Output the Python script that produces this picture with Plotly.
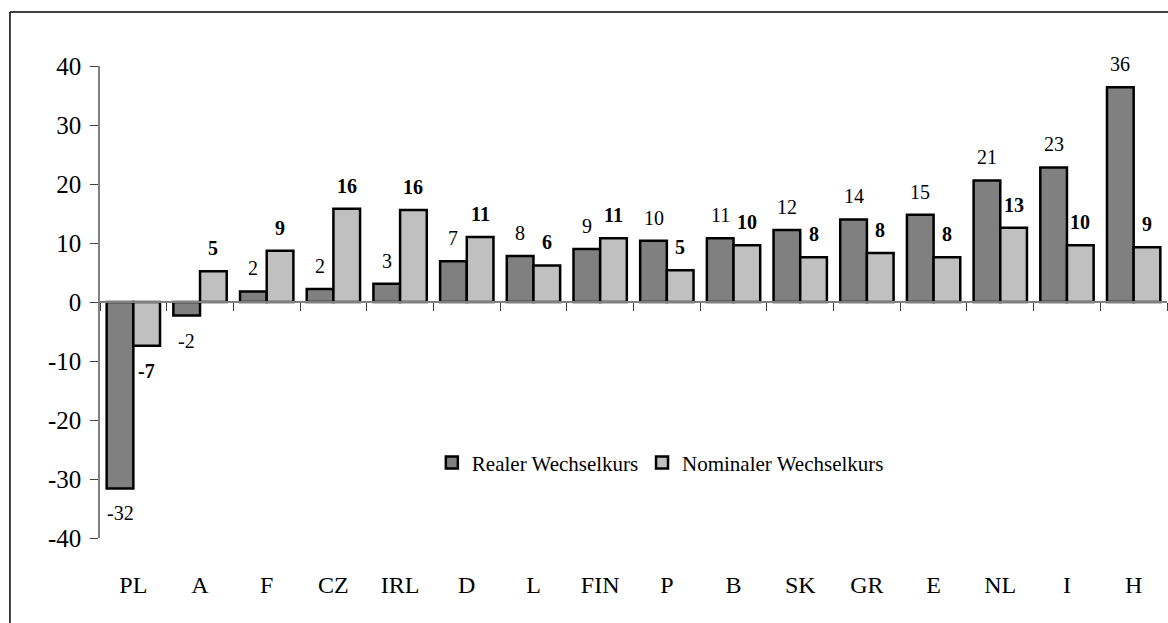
import plotly.graph_objects as go

# Countries and exchange-rate changes (percent)
countries = ["PL", "A", "F", "CZ", "IRL", "D", "L", "FIN", "P", "B",
             "SK", "GR", "E", "NL", "I", "H"]
real_rate = [-31.6, -2.3, 1.8, 2.2, 3.1, 6.9, 7.8, 9.0, 10.4, 10.8,
             12.2, 14.0, 14.8, 20.6, 22.8, 36.4]
nominal_rate = [-7.4, 5.2, 8.7, 15.8, 15.6, 11.0, 6.2, 10.8, 5.4, 9.6,
                7.6, 8.3, 7.6, 12.6, 9.6, 9.3]

series_names = ["Realer Wechselkurs", "Nominaler Wechselkurs"]
y_ticks = [-40, -30, -20, -10, 0, 10, 20, 30, 40]
y_tick_text = ["-40", "-30", "-20", "-10", "0", "10", "20", "30", "40"]

FONT = "Liberation Serif, Times New Roman, serif"
DARK = "#808080"
LIGHT = "#c0c0c0"

fig = go.Figure()
fig.add_trace(go.Bar(
    x=countries, y=real_rate, name=series_names[0], legend="legend",
    marker=dict(color=DARK, line=dict(color="black", width=2.5)),
))
fig.add_trace(go.Bar(
    x=countries, y=nominal_rate, name=series_names[1], legend="legend2",
    marker=dict(color=LIGHT, line=dict(color="black", width=2.5)),
))

# Value labels: real in regular weight, nominal in bold
half_bar_px = 13.33
for c, r, n in zip(countries, real_rate, nominal_rate):
    fig.add_annotation(
        x=c, y=r, text=f"{round(r):d}", showarrow=False,
        xshift=-half_bar_px, yshift=23 if r >= 0 else -25,
        font=dict(family=FONT, size=20, color="black"),
    )
    fig.add_annotation(
        x=c, y=n, text=f"<b>{round(n):d}</b>", showarrow=False,
        xshift=half_bar_px, yshift=23 if n >= 0 else -25,
        font=dict(family=FONT, size=20, color="black"),
    )

# Outer chart border (left and top edges visible)
fig.add_shape(type="line", xref="paper", yref="paper",
              x0=-0.0844, x1=-0.0844, y0=1.1144, y1=-0.2,
              line=dict(color="black", width=1.5))
fig.add_shape(type="line", xref="paper", yref="paper",
              x0=-0.0844, x1=1.01, y0=1.1144, y1=1.1144,
              line=dict(color="black", width=1.5))

legend_style = dict(
    orientation="h", yanchor="middle", xanchor="left", y=0.159,
    font=dict(family=FONT, size=21, color="black"),
    itemwidth=30, bgcolor="rgba(0,0,0,0)",
)

fig.update_layout(
    width=1168, height=623,
    margin=dict(l=100, r=1, t=66, b=85),
    paper_bgcolor="white", plot_bgcolor="white",
    barmode="group", bargap=0.2, bargroupgap=0,
    font=dict(family=FONT, color="black"),
    showlegend=True,
    legend=dict(x=0.311, **legend_style),
    legend2=dict(x=0.508, **legend_style),
    xaxis=dict(
        type="category", categoryorder="array", categoryarray=countries,
        showline=False, ticks="", showgrid=False, zeroline=False,
        tickfont=dict(family=FONT, size=24, color="black"),
        ticklabelstandoff=30,
    ),
    xaxis2=dict(
        type="category", categoryorder="array", categoryarray=countries,
        matches="x", overlaying="x", anchor="free", position=0.5,
        side="bottom", showline=True, linecolor="#808080", linewidth=1.5,
        ticks="outside", tickson="boundaries", ticklen=8,
        tickcolor="#404040", tickwidth=1.2,
        showticklabels=False, showgrid=False, zeroline=False,
    ),
    yaxis=dict(
        range=[-40, 40], tickvals=y_ticks, ticktext=y_tick_text,
        showgrid=False, zeroline=False,
        showline=True, linecolor="#808080", linewidth=1.5,
        ticks="outside", ticklen=8, tickcolor="#404040", tickwidth=1.2,
        tickfont=dict(family=FONT, size=25, color="black"),
        ticklabelstandoff=4,
    ),
)

# Invisible trace so the zero-line category axis is drawn
fig.add_trace(go.Bar(x=countries, y=[None] * len(countries), xaxis="x2",
                     showlegend=False, hoverinfo="skip"))

fig.write_html("out.html")
